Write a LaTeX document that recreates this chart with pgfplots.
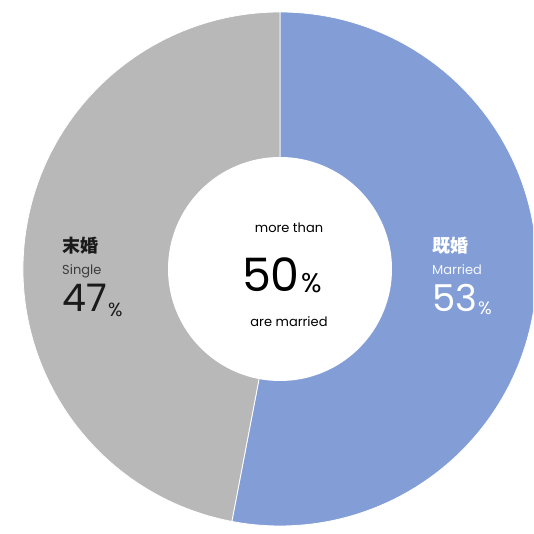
\documentclass[border=0pt]{standalone}
\usepackage{pgfplots}
\pgfplotsset{compat=1.18}
\usepackage{pgfplotstable}
\usepackage{fontspec}
\setmainfont{Poppins}
\newfontfamily\cjk{Noto Sans CJK JP}
\definecolor{married}{HTML}{839ED7}
\definecolor{single}{HTML}{B8B8B8}
\definecolor{darktext}{HTML}{1A1A1A}
\pgfplotstableread{
label value
Married 53
Single 47
}\piedata
\begin{document}
\begin{tikzpicture}
\clip (0,0) rectangle (533pt,534pt);
\begin{axis}[
  at={(0,0)}, anchor=south west,
  scale only axis, width=533pt, height=534pt,
  xmin=0, xmax=533, ymin=0, ymax=534,
  hide axis, clip=true,
]
\pgfplotstablegetelem{0}{value}\of\piedata \let\vmar\pgfplotsretval
\pgfplotstablegetelem{1}{value}\of\piedata \let\vsin\pgfplotsretval
\pgfmathsetmacro\aend{90-3.6*\vmar}
\pgfmathsetmacro\bend{\aend-3.6*\vsin}
% married slice
\fill[married, draw=white, line width=0.8pt] (axis cs:280,265) -- ([shift={(90:257pt)}]axis cs:280,265)
  arc[start angle=90, end angle=\aend, radius=257pt] -- cycle;
% single slice
\fill[single, draw=white, line width=0.8pt] (axis cs:280,265) -- ([shift={(\aend:257pt)}]axis cs:280,265)
  arc[start angle=\aend, end angle=\bend, radius=257pt] -- cycle;
% hole
\fill[white] (axis cs:280,265) circle[radius=112pt];
% center text
\node[anchor=base, font=\fontsize{13}{15}\selectfont, text=black, inner sep=0pt] at (axis cs:289,301) {more than};
\node[anchor=base east, font=\fontsize{46}{48}\selectfont, text=black, inner sep=0pt] at (axis cs:300,242.5) {50};
\node[anchor=base west, font=\fontsize{27}{29}\selectfont, text=black, inner sep=0pt] at (axis cs:301,241) {\%};
\node[anchor=base, font=\fontsize{13}{15}\selectfont, text=black, inner sep=0pt] at (axis cs:289,207) {are married};
% left labels
\node[anchor=base west, font=\cjk\bfseries\fontsize{18}{20}\selectfont, text=darktext, inner sep=0pt] at (axis cs:62,281) {末婚};
\node[anchor=base west, font=\fontsize{13}{15}\selectfont, text=darktext!85, inner sep=0pt] at (axis cs:62,259) {Single};
\node[anchor=base west, font=\fontsize{38}{40}\selectfont, text=darktext, inner sep=0pt] at (axis cs:62,222) {47};
\node[anchor=base west, font=\fontsize{19}{21}\selectfont, text=darktext, inner sep=0pt] at (axis cs:108,217.5) {\%};
% right labels
\node[anchor=base west, font=\cjk\bfseries\fontsize{18}{20}\selectfont, text=white, inner sep=0pt] at (axis cs:432,281) {既婚};
\node[anchor=base west, font=\fontsize{13}{15}\selectfont, text=white!92!married, inner sep=0pt] at (axis cs:432,259) {Married};
\node[anchor=base west, font=\fontsize{37}{39}\selectfont, text=white, inner sep=0pt] at (axis cs:432,222) {53};
\node[anchor=base west, font=\fontsize{18}{20}\selectfont, text=white, inner sep=0pt] at (axis cs:478,219) {\%};
\end{axis}
\end{tikzpicture}
\end{document}
